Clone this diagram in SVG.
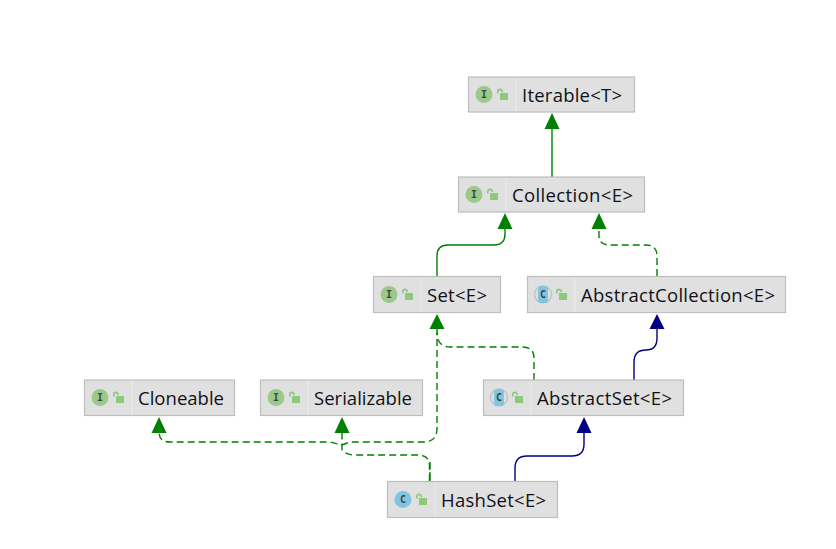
<svg xmlns="http://www.w3.org/2000/svg" width="836" height="549" viewBox="0 0 836 549">
<defs>
<style>
.box{fill:#e0e0e0;stroke:#bdbdbd;stroke-width:1.2}
.sep{stroke:#ebebeb;stroke-width:1}
.t{font-family:"Open Sans","Noto Sans","Liberation Sans",sans-serif;font-size:18.5px;fill:#101018}
.ic{font-family:"DejaVu Sans Mono","Liberation Mono",monospace;font-size:10px;font-weight:700;text-anchor:middle;fill:#444}
.ii{fill:#9bc98a}
.ci{fill:#7fc6e2}
.lk{fill:#8cc97a}
.sh{fill:none;stroke:#8cc97a;stroke-width:1.6}
.g{fill:none;stroke:#008000;stroke-width:1.4}
.d{stroke-dasharray:7 4}
.n{fill:none;stroke:#000080;stroke-width:1.4}
.ag{fill:#008000}
.an{fill:#000080}
.ab{fill:none;stroke:#c4c4c4;stroke-width:1.5}
</style>
<g id="lock"><rect class="lk" x="2" y="3" width="8" height="7"/><path class="sh" d="M-0.200 3.500 V1.800 Q-0.200 -0.600 2 -0.600 Q4 -0.600 4.300 2.200"/></g>
</defs>
<rect width="836" height="549" fill="#fff"/>
<g id="connectors">
<path class="g" d="M552 177 V128"/>
<path class="g" d="M437 276 V256 Q437 245 448 245 H494 Q505 245 505 234 V228"/>
<path class="g d" d="M657 276 V256 Q657 245 646 245 H610 Q599 245 599 236 V228"/>
<path class="n" d="M634 380 V362 Q634 350 646 350 Q657 350 657 338 V328"/>
<path class="g d" d="M534 380 V358 Q534 347 522 347 H450 Q437 347 437 332"/>
<path class="g d" d="M437 328 V428 Q437 442 424 442 H350 L342 445 L330 442 H170 Q159 442 159 432"/>
<path class="n" d="M515 481 V468 Q515 456 527 456 H572 Q584 456 584 444 V432"/>
<path class="g d" d="M429.500 481 V466 Q429.500 455 418 455 H354 Q346 455 342 450 V432"/>
<path class="g" stroke-dasharray="9 3" d="M430 481 V462"/>
<polygon class="ag" points="552,113 544.500,129 559.500,129"/>
<polygon class="ag" points="505,213 497.500,229 512.500,229"/>
<polygon class="ag" points="599,213 591.500,229 606.500,229"/>
<polygon class="ag" points="437,314 429.500,329 444.500,329"/>
<polygon class="an" points="657,314 649.500,329 664.500,329"/>
<polygon class="an" points="584,417 576.500,433 591.500,433"/>
<polygon class="ag" points="342,417 334.500,433 349.500,433"/>
<polygon class="ag" points="159,417 151.500,433 166.500,433"/>
</g>
<g id="iterable"><rect class="box" x="468.500" y="77" width="166" height="35"/><line class="sep" x1="516" y1="78" x2="516" y2="111"/><circle class="ii" cx="484" cy="94.500" r="8.500"/><text class="ic" x="484" y="98">I</text><use href="#lock" x="498" y="90"/><text class="t" x="522" y="102" textLength="100">Iterable&lt;T&gt;</text></g>
<g id="collection"><rect class="box" x="458.500" y="177" width="186" height="35"/><line class="sep" x1="506" y1="178" x2="506" y2="211"/><circle class="ii" cx="474" cy="194.500" r="8.500"/><text class="ic" x="474" y="198">I</text><use href="#lock" x="488" y="190"/><text class="t" x="512" y="202" textLength="121">Collection&lt;E&gt;</text></g>
<g id="set"><rect class="box" x="373.500" y="276.500" width="127" height="36"/><line class="sep" x1="421" y1="278" x2="421" y2="312"/><circle class="ii" cx="389" cy="294.500" r="8.500"/><text class="ic" x="389" y="298">I</text><use href="#lock" x="403" y="290"/><text class="t" x="427" y="302" textLength="60">Set&lt;E&gt;</text></g>
<g id="abstractcollection"><rect class="box" x="527.500" y="276.500" width="258" height="36"/><line class="sep" x1="575" y1="278" x2="575" y2="312"/><circle class="ab" cx="543" cy="294.500" r="8.500"/><rect class="ci" x="538" y="286" width="10" height="17" rx="3"/><text class="ic" x="543" y="298">C</text><use href="#lock" x="557" y="290"/><text class="t" x="581" y="302" textLength="194">AbstractCollection&lt;E&gt;</text></g>
<g id="cloneable"><rect class="box" x="84.500" y="380" width="150" height="35.500"/><line class="sep" x1="132" y1="381" x2="132" y2="415"/><circle class="ii" cx="100" cy="397.500" r="8.500"/><text class="ic" x="100" y="401">I</text><use href="#lock" x="114" y="393"/><text class="t" x="138" y="405" textLength="86">Cloneable</text></g>
<g id="serializable"><rect class="box" x="260.500" y="380" width="162" height="35.500"/><line class="sep" x1="308" y1="381" x2="308" y2="415"/><circle class="ii" cx="276" cy="397.500" r="8.500"/><text class="ic" x="276" y="401">I</text><use href="#lock" x="290" y="393"/><text class="t" x="314" y="405" textLength="98">Serializable</text></g>
<g id="abstractset"><rect class="box" x="483.500" y="380" width="200" height="35.500"/><line class="sep" x1="531" y1="381" x2="531" y2="415"/><circle class="ab" cx="499" cy="397.500" r="8.500"/><rect class="ci" x="494" y="389" width="10" height="17" rx="3"/><text class="ic" x="499" y="401">C</text><use href="#lock" x="513" y="393"/><text class="t" x="537" y="405" textLength="135">AbstractSet&lt;E&gt;</text></g>
<g id="hashset"><rect class="box" x="387.500" y="481.500" width="170" height="36"/><line class="sep" x1="435" y1="483" x2="435" y2="517"/><circle class="ci" cx="403" cy="499.500" r="8.500"/><text class="ic" x="403" y="503">C</text><use href="#lock" x="417" y="495"/><text class="t" x="441" y="507" textLength="105">HashSet&lt;E&gt;</text></g>
</svg>
